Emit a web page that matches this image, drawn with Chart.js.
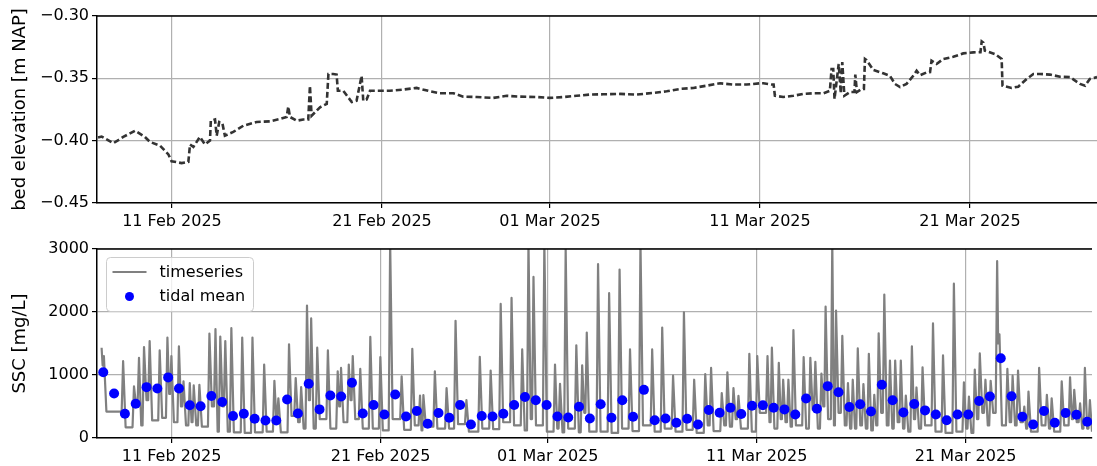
<!DOCTYPE html>
<html>
<head>
<meta charset="utf-8">
<script src="https://cdn.jsdelivr.net/npm/chart.js@4.4.1/dist/chart.umd.min.js"></script>
<style>
html, body { margin: 0; padding: 0; background: #fff; }
#wrap { position: relative; width: 1097px; height: 466px; overflow: hidden; }
canvas { position: absolute; left: 0; }
#bedChart { top: 0; }
#sscChart { top: 235px; }
</style>
</head>
<body>
<div id="wrap">
	<canvas id="bedChart" width="1097" height="235"></canvas>
	<canvas id="sscChart" width="1097" height="231"></canvas>
</div>
<script>
// x values are days since 11 Feb 2025 00:00
const X_MIN = -3.57;
const X_MAX = 44.05;
const tickDays = [0, 10, 18, 28, 38];
const tickLabels = ['11 Feb 2025', '21 Feb 2025', '01 Mar 2025', '11 Mar 2025', '21 Mar 2025'];

const bedTicks = [-0.45, -0.40, -0.35, -0.30];
const sscTicks = [0, 1000, 2000, 3000];

// bed elevation [m NAP]
const bedDays = [
	-3.52, -3.35, -2.79, -2.32, -1.76, -1.29, -1.05, -0.57, -0.17, -0.02, 0.46, 0.78, 0.86, 1.02, 1.33, 1.57,
	1.81, 1.85, 2.05, 2.13, 2.25, 2.40, 2.52, 2.92, 3.40, 4.03, 4.67, 5.14, 5.46, 5.54, 5.62, 5.94,
	6.25, 6.49, 6.57, 6.65, 7.05, 7.37, 7.45, 7.68, 7.84, 7.90, 8.16, 8.56, 8.79, 9.03, 9.11, 9.27,
	9.43, 9.90, 10.38, 11.02, 11.65, 12.29, 12.76, 13.40, 13.87, 14.51, 15.30, 15.94, 16.57, 17.37,
	18.00, 18.63, 19.27, 19.90, 20.54, 21.33, 22.13, 22.92, 23.56, 24.19, 24.83, 25.46, 26.10, 26.73,
	27.37, 28.00, 28.16, 28.56, 28.65, 28.71, 29.11, 29.59, 30.06, 30.54, 31.02, 31.33, 31.41, 31.49,
	31.55, 31.75, 31.85, 31.92, 32.02, 32.29, 32.50, 32.54, 32.62, 32.84, 32.95, 33.00, 33.08, 33.40,
	33.87, 34.19, 34.43, 34.67, 34.98, 35.30, 35.46, 35.62, 35.94, 36.10, 36.17, 36.41, 36.73, 37.21,
	37.68, 38.16, 38.50, 38.56, 38.64, 38.71, 39.19, 39.51, 39.55, 39.98, 40.30, 40.70, 41.02, 41.33,
	41.81, 42.29, 42.76, 43.24, 43.48, 43.71, 44.05
];
const bedValues = [
	-0.3975, -0.3967, -0.402, -0.397, -0.392, -0.397, -0.401, -0.404, -0.411, -0.4165, -0.418, -0.417, -0.403, -0.405, -0.397, -0.403,
	-0.400, -0.384, -0.383, -0.396, -0.385, -0.386, -0.396, -0.393, -0.388, -0.385, -0.3845, -0.3826, -0.381, -0.3727, -0.381, -0.384,
	-0.383, -0.383, -0.356, -0.380, -0.3732, -0.3705, -0.3465, -0.3465, -0.347, -0.360, -0.360, -0.369, -0.368, -0.348, -0.368, -0.367,
	-0.360, -0.360, -0.360, -0.359, -0.3577, -0.3604, -0.362, -0.362, -0.3647, -0.365, -0.3657, -0.364, -0.3647, -0.365,
	-0.3657, -0.365, -0.364, -0.363, -0.3628, -0.3625, -0.363, -0.3617, -0.3604, -0.3585, -0.3577, -0.3559, -0.354, -0.355,
	-0.355, -0.354, -0.354, -0.355, -0.355, -0.3639, -0.365, -0.364, -0.3625, -0.362, -0.362, -0.360, -0.3425, -0.3425,
	-0.3666, -0.3385, -0.362, -0.337, -0.364, -0.361, -0.361, -0.347, -0.361, -0.3585, -0.3585, -0.3345, -0.3355, -0.3433,
	-0.346, -0.348, -0.3545, -0.357, -0.3545, -0.348, -0.3439, -0.3475, -0.3452, -0.345, -0.3359, -0.3385, -0.3345, -0.3327,
	-0.330, -0.3292, -0.329, -0.3204, -0.3215, -0.3278, -0.3305, -0.3345, -0.3559, -0.3577, -0.3567, -0.3505, -0.3465, -0.3465,
	-0.347, -0.3487, -0.349, -0.3545, -0.3559, -0.3505, -0.349
];

// SSC timeseries [mg/L]: spike peaks and the low level reached after each one
const spikeDays = [
	-3.35, -3.24, -2.32, -1.80, -1.56, -1.32, -1.05, -0.57, -0.20, -0.01,
	0.35, 0.57, 0.87, 1.06, 1.33, 1.81, 2.10, 2.33, 2.57, 2.86,
	3.38, 3.87, 4.43, 4.92, 5.11, 5.62, 5.94, 6.20, 6.48, 6.68,
	6.97, 7.48, 7.95, 8.11,
	8.48, 8.67, 9.03, 9.51, 9.99, 10.46, 11.01, 11.52, 11.89, 12.05,
	12.60, 13.16, 13.59, 14.11, 14.75, 15.27, 15.75, 16.27, 16.78, 17.08,
	17.32, 17.84, 18.35, 18.59, 18.86, 19.37, 19.65, 19.87,
	20.41, 20.94, 21.44, 21.94, 22.44, 23.00, 23.48, 24.00, 24.52, 25.01,
	25.54, 25.82, 26.33, 26.60, 26.89, 27.13, 27.65, 28.03, 28.52, 28.73,
	29.06, 29.27, 29.52, 29.76, 30.25, 30.57, 30.81, 31.10, 31.30, 31.62,
	31.80,
	32.10, 32.37, 32.60, 32.84, 33.11, 33.37, 33.63, 33.84, 34.11, 34.38,
	34.63, 34.90, 35.14, 35.43, 35.65, 35.94, 36.44, 36.92, 37.44, 37.92,
	38.16, 38.44, 38.68, 38.95, 39.20, 39.51, 39.62, 40.00, 40.25, 40.51,
	40.81, 41.01, 41.52, 41.89, 42.12, 42.60, 43.00, 43.20, 43.48, 43.71,
	43.95
];
const spikePeaks = [
	1433, 1300, 1219, 818, 1273, 1444, 1540, 1390, 1593, 1300,
	1454, 898, 872, 834, 845, 1658, 1727, 1610, 1540, 1743,
	1593, 1593, 1166, 909, 631, 1486, 952, 807, 2101, 1898,
	1433, 1390, 1059, 1112,
	1166, 1300, 1096, 1604, 1284, 3100, 979, 1417, 674, 680,
	1059, 791, 1861, 600, 1289, 1070, 2128, 2224, 1406, 3100,
	2556, 3100, 1166, 861, 3000, 1470, 1155, 1674,
	2759, 2299, 2674, 1406, 3100, 1406, 1754, 989, 1995, 925,
	1016, 1112, 711, 1043, 791, 668, 1337, 1300, 1300, 1433,
	1192, 925, 925, 1711, 1283, 1273, 1208, 1021, 2085, 3100,
	2021,
	1620, 872, 925, 1422, 856, 1337, 684, 1663, 2278, 1230,
	1230, 1230, 674, 1454, 802, 1123, 1818, 1310, 2449, 882,
	658, 1085, 1342, 925, 909, 2807, 1647, 1096, 989, 1070,
	497, 738, 1112, 684, 631, 898, 962, 765, 551, 1112,
	600
];
const spikeTroughs = [
	1150, 420, 170, 500, 200, 600, 280, 320, 700, 250,
	500, 200, 250, 200, 180, 500, 100, 500, 100, 90,
	80, 90, 100, 350, 90, 350, 250, 150, 600, 150,
	300, 150, 500, 250,
	600, 300, 150, 150, 120, 300, 130, 200, 120, 180,
	150, 150, 220, 100, 150, 140, 250, 200, 120, 300,
	200, 100, 150, 90, 150, 90, 400, 100,
	100, 80, 150, 110, 200, 100, 150, 100, 130, 80,
	200, 110, 200, 180, 300, 150, 100, 400, 250, 150,
	300, 250, 180, 200, 150, 450, 150, 500, 300, 200,
	400,
	200, 150, 150, 200, 150, 120, 200, 400, 200, 150,
	250, 150, 100, 300, 150, 200, 100, 80, 100, 150,
	80, 300, 400, 200, 400, 1500, 200, 250, 200, 250,
	150, 100, 200, 150, 100, 200, 300, 250, 150, 150,
	100
];

// tidal means, one per tidal cycle
const TIDAL_START = -3.27;
const TIDAL_PERIOD = 0.5175;
const tidalMeans = [
	1043, 706, 385, 545, 807, 786, 962, 786, 519, 503,
	668, 572, 348, 385, 305, 278, 278, 610, 390, 861,
	454, 674, 658, 877, 390, 524, 374, 690, 342, 428,
	225, 396, 321, 524, 214, 348, 342, 385, 524, 652,
	599, 524, 342, 326, 497, 310, 535, 321, 599, 337,
	764, 283, 310, 241, 305, 214, 444, 401, 481, 380,
	513, 519, 481, 454, 374, 626, 465, 823, 727, 492,
	535, 422, 845, 599, 406, 540, 438, 374, 283, 374,
	374, 588, 658, 1267, 663, 337, 214, 428, 241, 396,
	369, 257
];

const FONT = 'DejaVu Sans';
const GRID = '#b0b0b0';

// peak -> slides down into the trough -> climbs back to the next peak
function buildSscLine() {
	const points = [];
	spikeDays.forEach((t, i) => {
		points.push({ x: t, y: spikePeaks[i] });
		const next = spikeDays[i + 1];
		if (next === undefined) {
			points.push({ x: t + 0.1, y: spikeTroughs[i] });
			return;
		}
		const gap = next - t;
		const down = Math.min(gap * 0.45, 0.12);
		const up = Math.min(gap * 0.3, 0.07);
		points.push({ x: t + down, y: spikeTroughs[i] });
		if (next - up > t + down + 0.01) {
			points.push({ x: next - up, y: spikeTroughs[i] });
		}
	});
	return points;
}

function fmtMinus(v, digits) {
	const s = Math.abs(v).toFixed(digits);
	return v < -1e-9 ? '\u2212' + s : s;
}

function xScale(height) {
	return {
		type: 'linear',
		min: X_MIN,
		max: X_MAX,
		afterBuildTicks(scale) {
			scale.ticks = tickDays.map((v) => ({ value: v }));
		},
		afterFit(scale) {
			scale.height = height;
			scale.paddingLeft = 0;
			scale.paddingRight = 0;
		},
		ticks: {
			autoSkip: false,
			maxRotation: 0,
			padding: 4,
			color: '#000',
			font: { family: FONT, size: 16 },
			callback(value, index) {
				return tickLabels[index];
			},
		},
		grid: { color: GRID, lineWidth: 1.2, tickColor: '#000', tickLength: 5, tickWidth: 1.2 },
		border: { color: '#000', width: 1.5 },
	};
}

function yScale(min, max, ticks, title, digits) {
	return {
		type: 'linear',
		min,
		max,
		afterBuildTicks(scale) {
			scale.ticks = ticks.map((v) => ({ value: v }));
		},
		afterFit(scale) {
			scale.width = 97;
			scale.paddingTop = 0;
			scale.paddingBottom = 0;
		},
		ticks: {
			padding: 3,
			color: '#000',
			font: { family: FONT, size: 16 },
			callback(value) {
				return fmtMinus(value, digits);
			},
		},
		title: {
			display: true,
			text: title,
			color: '#000',
			font: { family: FONT, size: 18 },
			padding: { top: 10, bottom: 0 },
		},
		grid: { color: GRID, lineWidth: 1.2, tickColor: '#000', tickLength: 5, tickWidth: 1.2 },
		border: { color: '#000', width: 1.5 },
	};
}

const topBorder = {
	id: 'topBorder',
	afterDraw(chart) {
		const { ctx, chartArea } = chart;
		ctx.save();
		ctx.strokeStyle = '#000';
		ctx.lineWidth = 1.5;
		ctx.beginPath();
		ctx.moveTo(chartArea.left - 0.75, chartArea.top);
		ctx.lineTo(chartArea.right, chartArea.top);
		ctx.stroke();
		ctx.restore();
	},
};

const legendBox = {
	id: 'legendBox',
	afterDraw(chart) {
		const { ctx, chartArea } = chart;
		const sets = chart.data.datasets;
		const x = chartArea.left + 9.5;
		const y = chartArea.top + 8.5;
		const w = 147;
		const h = 54;
		const r = 4;
		ctx.save();
		ctx.beginPath();
		ctx.moveTo(x + r, y);
		ctx.arcTo(x + w, y, x + w, y + h, r);
		ctx.arcTo(x + w, y + h, x, y + h, r);
		ctx.arcTo(x, y + h, x, y, r);
		ctx.arcTo(x, y, x + w, y, r);
		ctx.closePath();
		ctx.fillStyle = 'rgba(255,255,255,0.8)';
		ctx.fill();
		ctx.strokeStyle = '#cccccc';
		ctx.lineWidth = 1;
		ctx.stroke();

		ctx.strokeStyle = sets[0].borderColor;
		ctx.lineWidth = 2.2;
		ctx.beginPath();
		ctx.moveTo(x + 6, y + 14.5);
		ctx.lineTo(x + 40, y + 14.5);
		ctx.stroke();

		ctx.fillStyle = sets[1].backgroundColor;
		ctx.beginPath();
		ctx.arc(x + 23, y + 39, 4.5, 0, Math.PI * 2);
		ctx.fill();

		ctx.fillStyle = '#000';
		ctx.font = '16px "' + FONT + '"';
		ctx.textBaseline = 'middle';
		ctx.fillText(sets[0].label, x + 53, y + 15);
		ctx.fillText(sets[1].label, x + 53, y + 39.5);
		ctx.restore();
	},
};

new Chart(document.getElementById('bedChart').getContext('2d'), {
	type: 'line',
	data: {
		datasets: [{
			label: 'bed elevation',
			data: bedDays.map((d, i) => ({ x: d, y: bedValues[i] })),
			borderColor: '#333333',
			borderWidth: 2.6,
			borderDash: [6, 3],
			pointRadius: 0,
			tension: 0,
		}],
	},
	options: {
		responsive: false,
		animation: false,
		devicePixelRatio: 1,
		layout: { padding: { top: 16, left: 0, right: 0, bottom: 0 } },
		scales: {
			x: xScale(32),
			y: yScale(-0.45, -0.30, bedTicks, 'bed elevation [m NAP]', 2),
		},
		plugins: { legend: { display: false }, tooltip: { enabled: false } },
	},
	plugins: [topBorder],
});

new Chart(document.getElementById('sscChart').getContext('2d'), {
	type: 'line',
	data: {
		datasets: [
			{
				label: 'timeseries',
				data: buildSscLine(),
				borderColor: '#808080',
				borderWidth: 2.2,
				borderJoinStyle: 'round',
				pointRadius: 0,
				tension: 0,
				clip: 0,
				order: 2,
			},
			{
				label: 'tidal mean',
				data: tidalMeans.map((v, i) => ({ x: TIDAL_START + i * TIDAL_PERIOD, y: v })),
				showLine: false,
				backgroundColor: '#0000ff',
				borderColor: '#0000ff',
				pointRadius: 5,
				pointBorderWidth: 0,
				order: 1,
			},
		],
	},
	options: {
		responsive: false,
		animation: false,
		devicePixelRatio: 1,
		layout: { padding: { top: 14, left: 0, right: 0, bottom: 0 } },
		scales: {
			x: xScale(28),
			y: yScale(0, 3000, sscTicks, 'SSC [mg/L]', 0),
		},
		plugins: { legend: { display: false }, tooltip: { enabled: false } },
	},
	plugins: [topBorder, legendBox],
});
</script>
</body>
</html>
